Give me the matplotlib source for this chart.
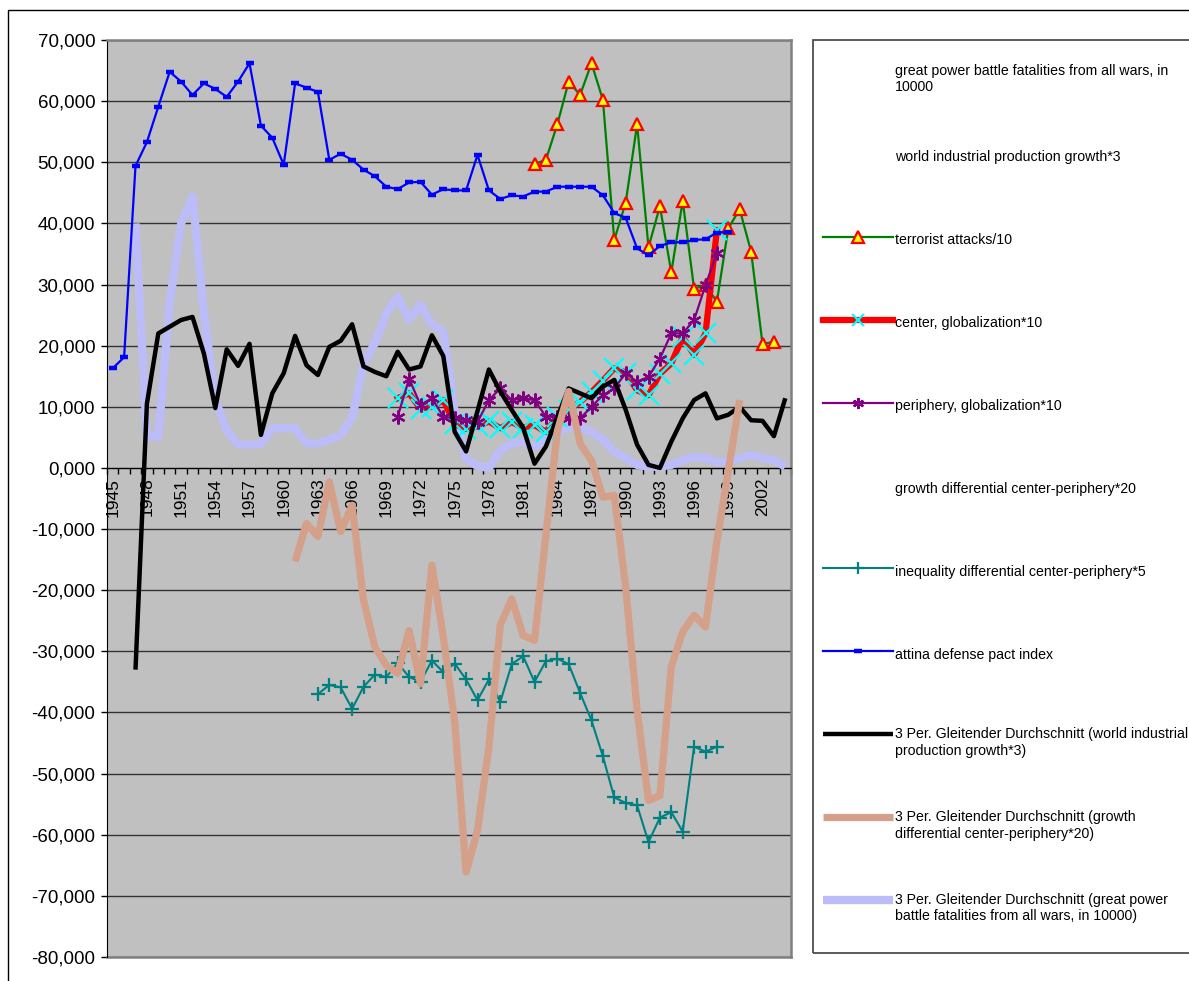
import numpy as np
import matplotlib
matplotlib.use("Agg")
import matplotlib.pyplot as plt
from matplotlib.lines import Line2D
from matplotlib.patches import Rectangle

plt.rcParams['font.family'] = ['Liberation Sans', 'DejaVu Sans']

# ---------------------------------------------------------------
# Daten
# ---------------------------------------------------------------
years = list(range(1945, 2005))
label_years = years[::3]

attina_start = 1945
attina = [16300, 18100, 49400, 53300, 59100, 64800, 63200, 61000, 62900, 62000,
          60700, 63200, 66200, 56000, 54000, 49600, 62900, 62200, 61500, 50400,
          51400, 50400, 48800, 47700, 46000, 45600, 46700, 46800, 44700, 45600,
          45400, 45400, 51200, 45400, 44000, 44600, 44400, 45200, 45200, 46000,
          46000, 46000, 46000, 44600, 41700, 40900, 35900, 34800, 36300, 36900,
          36900, 37300, 37400, 38500, 38600]

terror_start = 1982
terror = [49700, 50400, 56200, 63200, 61000, 66200, 60200, 37300, 43400, 56200,
          36100, 42800, 32000, 43700, 29300, 29900, 27200, 39200, 42300, 35400,
          20300, 20600]

center_start = 1970
center = [11400, 12200, 9700, 10000, 11100, 7200, 6400, 6800, 7600, 6500,
          7500, 6600, 7000, 5900, 8400, 9500, 10800, 12400, 14300, 16300,
          15600, 12700, 11900, 15400, 17100, 21400, 18500, 22000, 38900]

periph_start = 1970
periph = [8400, 14600, 10300, 11400, 8400, 8100, 7800, 7500, 11100, 13000,
          11100, 11400, 11100, 8400, 8300, 8100, 8100, 10000, 11900, 13000,
          15500, 14100, 14900, 17900, 22000, 22000, 24200, 29900, 35100]

ineq_start = 1963
ineq = [-37000, -35500, -35900, -39400, -35800, -33800, -34200, -31900, -34200, -35000,
        -31500, -33400, -32000, -34600, -38000, -34600, -38300, -32100, -30800, -35000,
        -31600, -31200, -32100, -36800, -41300, -47200, -53900, -54800, -55200, -61200,
        -57200, -56300, -59500, -45600, -46400, -45600]

# 3 Per. gleitender Durchschnitt: Industrieproduktion*3
ind_start = 1947
ind_ma = [-33000, 10500, 22000, 23100, 24200, 24700, 18700, 9800, 19400, 16700,
          20300, 5400, 12200, 15500, 21600, 16800, 15200, 19800, 20800, 23500,
          16600, 15700, 15000, 19000, 16100, 16600, 21700, 18300, 5900, 2700,
          9300, 16100, 12500, 9500, 6600, 700, 3500, 8300, 13000, 12200,
          11400, 13300, 14400, 9500, 3800, 500, 0, 4300, 8100, 11100,
          12200, 8100, 8700, 10000, 7800, 7700, 5200, 11400]

# 3 Per. gleitender Durchschnitt: Wachstumsdifferential*20
growth_start = 1961
growth_ma = [-15300, -9100, -11200, -2300, -10400, -6100, -21600, -29300, -32300, -33600,
             -26600, -35300, -15900, -27600, -41500, -66100, -59300, -45600, -25700, -21400,
             -27400, -28200, -11000, 6000, 12500, 4000, 1200, -4800, -4500, -19500,
             -39600, -54400, -53600, -32500, -26800, -24100, -26000, -12000, -500, 11100]

# 3 Per. gleitender Durchschnitt: Kriegstote
war_start = 1947
war_ma = [40000, 5100, 5100, 27000, 40000, 44400, 25300, 11100, 6200, 3800,
          3800, 4000, 6500, 6500, 6500, 4000, 4000, 4600, 5400, 8100,
          17100, 20400, 25300, 28000, 24200, 26700, 23400, 22300, 9000, 1500,
          300, 0, 2900, 4000, 4300, 3500, 4500, 5900, 6700, 6700,
          5900, 4600, 2700, 1600, 500, 200, 200, 500, 1300, 1800,
          1600, 1000, 1000, 1600, 2100, 1600, 1300, 200]

# ---------------------------------------------------------------
# Stile
# ---------------------------------------------------------------
st_terror = dict(color='#008000', lw=1.6, marker='^', ms=9, mfc='#FFFF00',
                 mec='#FF0000', mew=1.6)
st_center = dict(color='#FF0000', lw=4.5, marker='x', ms=14, mec='#00FFFF', mew=1.6)
st_periph = dict(color='#800080', lw=1.6, marker=(6, 2, 0), ms=10, mec='#800080', mew=1.6)
st_ineq = dict(color='#008080', lw=1.5, marker='+', ms=10, mec='#008080', mew=1.6)
st_attina = dict(color='#0000FF', lw=1.6, marker='_', ms=6, mec='#0000FF', mew=3.2)
st_ind = dict(color='black', lw=3.2, solid_capstyle='butt')
st_growth = dict(color='#D4A08A', lw=5.2, solid_capstyle='butt')
st_war = dict(color='#BCBCF8', lw=6.0, solid_capstyle='butt')

W, H = 1189, 981
fig = plt.figure(figsize=(W / 100, H / 100), dpi=100)

# Diagrammrahmen
fig.patches.append(Rectangle((8 / W, -0.05), 1.1, 1.05 - 10 / H, transform=fig.transFigure,
                             fill=False, ec='black', lw=1.0))

ax = fig.add_axes([107 / W, 1 - 957 / H, (791 - 107) / W, (957 - 40) / H])
ax.set_facecolor('#C0C0C0')


def yrs(start, vals):
    return np.arange(start, start + len(vals))


ax.plot(yrs(war_start, war_ma), war_ma, zorder=3, **st_war)
ax.plot(yrs(terror_start, terror), terror, zorder=4, **st_terror)
ax.plot(yrs(center_start, center), center, zorder=4, **st_center)
ax.plot(yrs(periph_start, periph), periph, zorder=4, **st_periph)
ax.plot(yrs(ineq_start, ineq), ineq, zorder=4, **st_ineq)
ax.plot(yrs(attina_start, attina), attina, zorder=4, **st_attina)
ax.plot(yrs(ind_start, ind_ma), ind_ma, zorder=5, **st_ind)
ax.plot(yrs(growth_start, growth_ma), growth_ma, zorder=6, **st_growth)

ax.set_xlim(years[0] - 0.5, years[-1] + 0.5)
ax.set_ylim(-80000, 70000)

# y-Achse
yt = list(range(-80000, 70001, 10000))
ax.set_yticks(yt)


def fmt(v):
    s = '-' if v < 0 else ''
    v = abs(v)
    return f"{s}{v // 1000},{v % 1000:03d}"


ax.set_yticklabels([fmt(v) for v in yt], fontsize=13.5)
ax.tick_params(axis='y', direction='out', length=4.5, width=1, pad=4)
ax.yaxis.grid(True, color='#333333', lw=1)
ax.set_axisbelow(True)

# x-Achse auf der Nulllinie
ax.spines['bottom'].set_position(('data', 0))
ax.spines['bottom'].set_color('black')
ax.set_xticks(label_years)
ax.set_xticklabels([str(y) for y in label_years], rotation=90, fontsize=12.5)
ax.set_xticks([y - 0.5 for y in years] + [years[-1] + 0.5], minor=True)
ax.tick_params(axis='x', which='major', length=0, pad=7)
ax.tick_params(axis='x', which='minor', direction='out', length=4, width=1)

for s in ['top', 'right']:
    ax.spines[s].set_color('#808080')
    ax.spines[s].set_linewidth(1.8)
ax.spines['left'].set_color('black')
ax.add_line(Line2D([0, 1], [0, 0], transform=ax.transAxes, color='#808080', lw=1.8,
                   clip_on=False))

# ---------------------------------------------------------------
# Legende
# ---------------------------------------------------------------
fig.patches.append(Rectangle((813 / W, 1 - 953 / H), 0.5, (953 - 40) / H,
                             transform=fig.transFigure, fill=False, ec='#404040', lw=1.2))

legend_rows = [
    (None, 'great power battle fatalities from all wars, in\n10000'),
    (None, 'world industrial production growth*3'),
    (st_terror, 'terrorist attacks/10'),
    (st_center, 'center, globalization*10'),
    (st_periph, 'periphery, globalization*10'),
    (None, 'growth differential center-periphery*20'),
    (st_ineq, 'inequality differential center-periphery*5'),
    (st_attina, 'attina defense pact index'),
    (st_ind, '3 Per. Gleitender Durchschnitt (world industrial\nproduction growth*3)'),
    (st_growth, '3 Per. Gleitender Durchschnitt (growth\ndifferential center-periphery*20)'),
    (st_war, '3 Per. Gleitender Durchschnitt (great power\nbattle fatalities from all wars, in 10000)'),
]

row_y = 73
for style, text in legend_rows:
    yf = 1 - row_y / H
    if style is not None:
        line_style = {k: v for k, v in style.items()
                      if k not in ('marker', 'ms', 'mfc', 'mec', 'mew')}
        fig.add_artist(Line2D([823 / W, 893 / W], [yf + 2 / H, yf + 2 / H],
                              transform=fig.transFigure, **line_style))
        if 'marker' in style:
            mk = {k: v for k, v in style.items() if k in ('marker', 'ms', 'mfc', 'mec', 'mew')}
            mk['ms'] = min(mk['ms'], 8)
            fig.add_artist(Line2D([858 / W], [yf + 2 / H], transform=fig.transFigure,
                                  ls='none', **mk))
    if '\n' in text:
        fig.text(895 / W, yf + 9 / H, text, fontsize=10.2, ha='left', va='top',
                 linespacing=1.22)
    else:
        fig.text(895 / W, yf, text, fontsize=10.2, ha='left', va='center_baseline')
    row_y += 82.9

fig.savefig('out.png', dpi=100)
